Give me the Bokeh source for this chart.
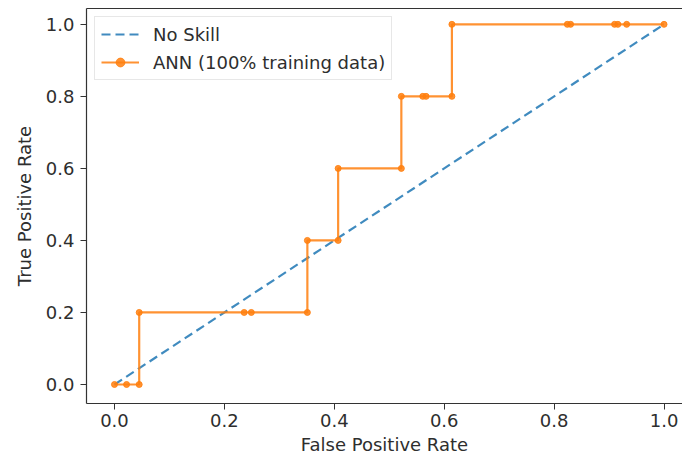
from bokeh.plotting import figure
from bokeh.models import LinearAxis, FixedTicker, Range1d, Legend, LegendItem
from bokeh.embed import file_html
from bokeh.resources import INLINE

# No-skill reference line
ns_fpr = [0.0, 1.0]
ns_tpr = [0.0, 1.0]

# ANN ROC curve points
ann_fpr = [0.0, 0.022, 0.045, 0.045, 0.236, 0.249, 0.351, 0.351, 0.407, 0.407,
           0.522, 0.522, 0.561, 0.567, 0.614, 0.614, 0.824, 0.830, 0.910, 0.916,
           0.932, 1.0]
ann_tpr = [0.0, 0.0, 0.0, 0.2, 0.2, 0.2, 0.2, 0.4, 0.4, 0.6,
           0.6, 0.8, 0.8, 0.8, 0.8, 1.0, 1.0, 1.0, 1.0, 1.0,
           1.0, 1.0]

ticks = [0.0, 0.2, 0.4, 0.6, 0.8, 1.0]
tick_labels = {t: f"{t:.1f}" for t in ticks}

FONT = "DejaVu Sans"
TXT = "#2e2e2e"
FS = "18px"

p = figure(width=682, height=464, output_backend="svg", toolbar_location=None,
           x_range=Range1d(-0.0509, 1.0336), y_range=Range1d(-0.0528, 1.044),
           min_border_left=86, min_border_right=0, min_border_top=8, min_border_bottom=61,
           background_fill_color="white", border_fill_color="white")
p.outline_line_color = None
p.xgrid.visible = False
p.ygrid.visible = False

for ax in (p.xaxis[0], p.yaxis[0]):
    ax.ticker = FixedTicker(ticks=ticks)
    ax.major_label_overrides = tick_labels
    ax.major_label_text_font = FONT
    ax.major_label_text_font_size = FS
    ax.major_label_text_color = TXT
    ax.axis_label_text_font = FONT
    ax.axis_label_text_font_size = FS
    ax.axis_label_text_font_style = "normal"
    ax.axis_label_text_color = TXT
    ax.axis_line_color = "#333333"
    ax.axis_line_width = 1.2
    ax.major_tick_line_color = "#333333"
    ax.major_tick_out = 6
    ax.major_tick_in = 0
    ax.minor_tick_line_color = None

p.xaxis.axis_label = "False Positive Rate"
p.yaxis.axis_label = "True Positive Rate"
p.xaxis.major_label_standoff = 4
p.xaxis.axis_label_standoff = 4
p.yaxis.major_label_standoff = 6
p.yaxis.axis_label_standoff = 8

top = LinearAxis(ticker=FixedTicker(ticks=[]), major_label_text_font_size="0px",
                 major_tick_line_color=None, minor_tick_line_color=None,
                 axis_line_color="#333333", axis_line_width=1.2,
                 major_label_standoff=0, major_tick_out=0)
p.add_layout(top, "above")

r_ns = p.line(ns_fpr, ns_tpr, line_color="#1f77b4", line_width=2.2, line_dash="9 5",
              line_alpha=0.85)
r_line = p.line(ann_fpr, ann_tpr, line_color="#ff7f0e", line_width=2.2, line_alpha=0.85)
r_pts = p.scatter(ann_fpr, ann_tpr, size=6, fill_color="#ff7f0e", line_color="#ff7f0e",
                  alpha=0.85)

legend = Legend(items=[
    LegendItem(label="No Skill", renderers=[r_ns]),
    LegendItem(label="ANN (100% training data)", renderers=[r_line, r_pts]),
], location="top_left")
legend.margin = 8
legend.padding = 6
legend.spacing = 6
legend.label_text_font = FONT
legend.label_text_font_size = FS
legend.label_text_color = TXT
legend.label_standoff = 14
legend.glyph_width = 38
legend.glyph_height = 22
legend.label_height = 22
legend.border_line_color = "#d0d0d0"
legend.border_line_width = 1
legend.background_fill_alpha = 0.8
p.add_layout(legend, "center")

open("out.html", "w").write(file_html(p, INLINE))
